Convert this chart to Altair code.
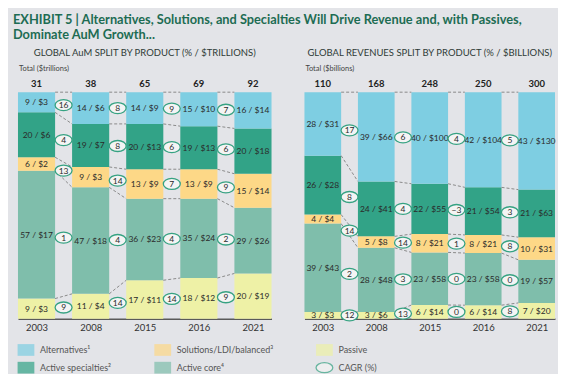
import altair as alt
import pandas as pd

years = ["2003", "2008", "2015", "2016", "2021"]

# products, bottom to top of each bar
products = ["Passive", "Active core⁴", "Solutions/LDI/balanced³", "Active specialties²", "Alternatives¹"]
legend_order = ["Alternatives¹", "Active specialties²", "Solutions/LDI/balanced³",
                "Active core⁴", "Passive", "CAGR (%)"]
product_colors = {"Alternatives¹": "#7ecee2", "Solutions/LDI/balanced³": "#fdd887",
                  "Passive": "#eef1a6", "Active specialties²": "#32a387",
                  "Active core⁴": "#7fbeab", "CAGR (%)": "#f3f3f3"}

# ---- Global AuM (% / $ trillions)
aum_totals = [31, 38, 65, 69, 92]
aum_passive_pct = [9, 11, 17, 18, 20]
aum_passive_usd = [3, 4, 11, 12, 19]
aum_core_pct = [57, 47, 36, 35, 29]
aum_core_usd = [17, 18, 23, 24, 26]
aum_solutions_pct = [6, 9, 13, 13, 15]
aum_solutions_usd = [2, 3, 9, 9, 14]
aum_specialties_pct = [20, 19, 20, 19, 20]
aum_specialties_usd = [6, 7, 13, 13, 18]
aum_alternatives_pct = [9, 14, 14, 15, 16]
aum_alternatives_usd = [3, 6, 9, 10, 14]
aum_passive_cagr = [9, 14, 14, 9]
aum_core_cagr = [1, 4, 4, 2]
aum_solutions_cagr = [13, 14, 7, 9]
aum_specialties_cagr = [4, 8, 6, 6]
aum_alternatives_cagr = [16, 8, 9, 7]

# ---- Global revenues (% / $ billions)
rev_totals = [110, 168, 248, 250, 300]
rev_passive_pct = [3, 3, 6, 6, 7]
rev_passive_usd = [3, 6, 14, 14, 20]
rev_core_pct = [39, 28, 23, 23, 19]
rev_core_usd = [43, 48, 58, 58, 57]
rev_solutions_pct = [4, 5, 8, 8, 10]
rev_solutions_usd = [4, 8, 21, 21, 31]
rev_specialties_pct = [26, 24, 22, 21, 21]
rev_specialties_usd = [28, 41, 55, 54, 63]
rev_alternatives_pct = [28, 39, 40, 42, 43]
rev_alternatives_usd = [31, 66, 100, 104, 130]
rev_passive_cagr = [12, 13, 0, 8]
rev_core_cagr = [2, 3, 0, 0]
rev_solutions_cagr = [14, 14, 1, 8]
rev_specialties_cagr = [8, 4, -3, 3]
rev_alternatives_cagr = [17, 6, 4, 5]

FONT = "Lato"
HW = 0.343  # half bar width in x units
BG = "#e3e4e8"
ELLIPSE = "M-1,0A1,0.65,0,1,0,1,0A1,0.65,0,1,0,-1,0Z"
LEG_ELLIPSE = "M-1.2,0A1.2,0.72,0,1,0,1.2,0A1.2,0.72,0,1,0,-1.2,0Z"
LEG_RECT = "M-1.2,-0.84L1.2,-0.84L1.2,0.84L-1.2,0.84Z"

fill_scale = alt.Scale(domain=legend_order, range=[product_colors[k] for k in legend_order])
shape_scale = alt.Scale(domain=legend_order, range=[LEG_RECT] * 5 + [LEG_ELLIPSE])
stroke_scale = alt.Scale(domain=legend_order, range=["transparent"] * 5 + ["#36a282"])


def fmt(v):
    return ("−" + str(-v)) if v < 0 else str(v)


def panel(pcts, usds, cagrs, totals, title, total_label, width):
    n = len(years)
    bars, links, rings = [], [], []
    bounds = []
    for i in range(n):
        s = sum(p[i] for p in pcts)
        cum = 0.0
        b = []
        for prod, p, u in zip(products, pcts, usds):
            y0 = cum / s
            cum += p[i]
            y1 = cum / s
            bars.append({"product": prod, "x0": i - HW, "x1": i + HW, "y0": y0, "y1": y1,
                         "xm": i, "ym": (y0 + y1) / 2, "label": f"{p[i]} / ${u[i]}"})
            b.append((y0, y1))
        bounds.append(b)
    for i in range(n - 1):
        for k, prod in enumerate(products):
            a0, a1 = bounds[i][k]
            c0, c1 = bounds[i + 1][k]
            links.append({"x": i + HW, "x2": i + 1 - HW, "y": a1, "y2": c1})
            rings.append({"product": prod, "x": i + 0.5, "y": ((a0 + a1) / 2 + (c0 + c1) / 2) / 2,
                          "label": fmt(cagrs[k][i])})
    tots = pd.DataFrame({"x": list(range(n)), "y": [1.0] * n, "label": [str(t) for t in totals]})
    bars = pd.DataFrame(bars)
    links = pd.DataFrame(links)
    rings = pd.DataFrame(rings)
    lab = pd.DataFrame({"x": [-HW], "y": [1.0], "label": [total_label]})
    legend_df = pd.DataFrame({"product": legend_order, "x": [-99.0] * 6, "y": [0.0] * 6})

    xs = alt.Scale(domain=[-HW, n - 1 + HW], nice=False, zero=False)
    ys = alt.Scale(domain=[0, 1], nice=False)
    label_expr = "[" + ",".join(f"'{y}'" for y in years) + "][datum.value]"
    xaxis = alt.Axis(values=list(range(n)), labelExpr=label_expr, title=None, ticks=False,
                     grid=False, domainColor="#5a5a5a", domainWidth=1.6, labelFont=FONT,
                     labelFontSize=9.5, labelColor="#333", labelPadding=4)

    legend = alt.Legend(title=None, orient="none", legendX=0, legendY=250, columns=3,
                        padding=0, columnPadding=40, rowPadding=0, symbolSize=196,
                        symbolStrokeWidth=1.3, labelFont=FONT, labelFontSize=9,
                        labelColor="#555", labelOffset=6)

    bar = alt.Chart(bars).mark_bar().encode(
        x=alt.X("x0:Q", scale=xs, axis=xaxis), x2="x1:Q",
        y=alt.Y("y0:Q", scale=ys, axis=None), y2="y1:Q",
        fill=alt.Fill("product:N", scale=fill_scale, legend=legend),
    )
    text = alt.Chart(bars).mark_text(font=FONT, fontSize=8.5, color="#2a2a2a").encode(
        x=alt.X("xm:Q", scale=xs), y=alt.Y("ym:Q", scale=ys), text="label:N")
    link = alt.Chart(links).mark_rule(color="#8a8a8a", strokeDash=[3, 2], strokeWidth=1).encode(
        x=alt.X("x:Q", scale=xs), x2="x2:Q", y=alt.Y("y:Q", scale=ys), y2="y2:Q")
    ring = alt.Chart(rings).mark_point(filled=False, size=289, shape=ELLIPSE, fill="#f4f4f4",
                                       fillOpacity=1, stroke="#36a282", strokeWidth=1.3,
                                       opacity=1).encode(
        x=alt.X("x:Q", scale=xs), y=alt.Y("y:Q", scale=ys))
    ring_text = alt.Chart(rings).mark_text(font=FONT, fontSize=8.5, color="#2a2a2a").encode(
        x=alt.X("x:Q", scale=xs), y=alt.Y("y:Q", scale=ys), text="label:N")
    total = alt.Chart(tots).mark_text(font=FONT, fontSize=9.5, fontWeight="bold", color="#222",
                                      dy=-8).encode(
        x=alt.X("x:Q", scale=xs), y=alt.Y("y:Q", scale=ys), text="label:N")
    tlabel = alt.Chart(lab).mark_text(font=FONT, fontSize=7.5, color="#444", align="left",
                                      dx=1, dy=-23).encode(
        x=alt.X("x:Q", scale=xs), y=alt.Y("y:Q", scale=ys), text="label:N")
    leg = alt.Chart(legend_df).mark_point(filled=True).encode(
        x=alt.X("x:Q", scale=xs), y=alt.Y("y:Q", scale=ys),
        fill=alt.Fill("product:N", scale=fill_scale, legend=legend),
        shape=alt.Shape("product:N", scale=shape_scale, legend=legend),
        stroke=alt.Stroke("product:N", scale=stroke_scale, legend=legend),
    ).transform_filter("datum.x > -50")

    return alt.layer(bar, link, text, ring, ring_text, total, tlabel, leg).properties(
        width=width, height=227,
        title=alt.TitleParams(title, anchor="middle", font=FONT, fontSize=9.5,
                              fontWeight="normal", color="#2f3b37", offset=8),
    )


aum = panel([aum_passive_pct, aum_core_pct, aum_solutions_pct, aum_specialties_pct, aum_alternatives_pct],
            [aum_passive_usd, aum_core_usd, aum_solutions_usd, aum_specialties_usd, aum_alternatives_usd],
            [aum_passive_cagr, aum_core_cagr, aum_solutions_cagr, aum_specialties_cagr, aum_alternatives_cagr],
            aum_totals, "GLOBAL AuM SPLIT BY PRODUCT (% / $TRILLIONS)", "Total ($trillions)", 254)
rev = panel([rev_passive_pct, rev_core_pct, rev_solutions_pct, rev_specialties_pct, rev_alternatives_pct],
            [rev_passive_usd, rev_core_usd, rev_solutions_usd, rev_specialties_usd, rev_alternatives_usd],
            [rev_passive_cagr, rev_core_cagr, rev_solutions_cagr, rev_specialties_cagr, rev_alternatives_cagr],
            rev_totals, "GLOBAL REVENUES SPLIT BY PRODUCT (% / $BILLIONS)", "Total ($billions)", 251)

chart = alt.hconcat(aum, rev, spacing=33).properties(
    title=alt.TitleParams(
        ["EXHIBIT 5 | Alternatives, Solutions, and Specialties Will Drive Revenue and, with Passives,",
         "Dominate AuM Growth..."],
        anchor="start", font=FONT, fontSize=12.8, fontWeight="bold", color="#1d6c53",
        dx=-5, offset=6, lineHeight=15),
).configure(background=BG, padding={"left": 5, "top": 5, "right": 2, "bottom": 0}
).configure_view(stroke=None)

chart.save("out.html", embed_options={"renderer": "svg", "actions": False})
